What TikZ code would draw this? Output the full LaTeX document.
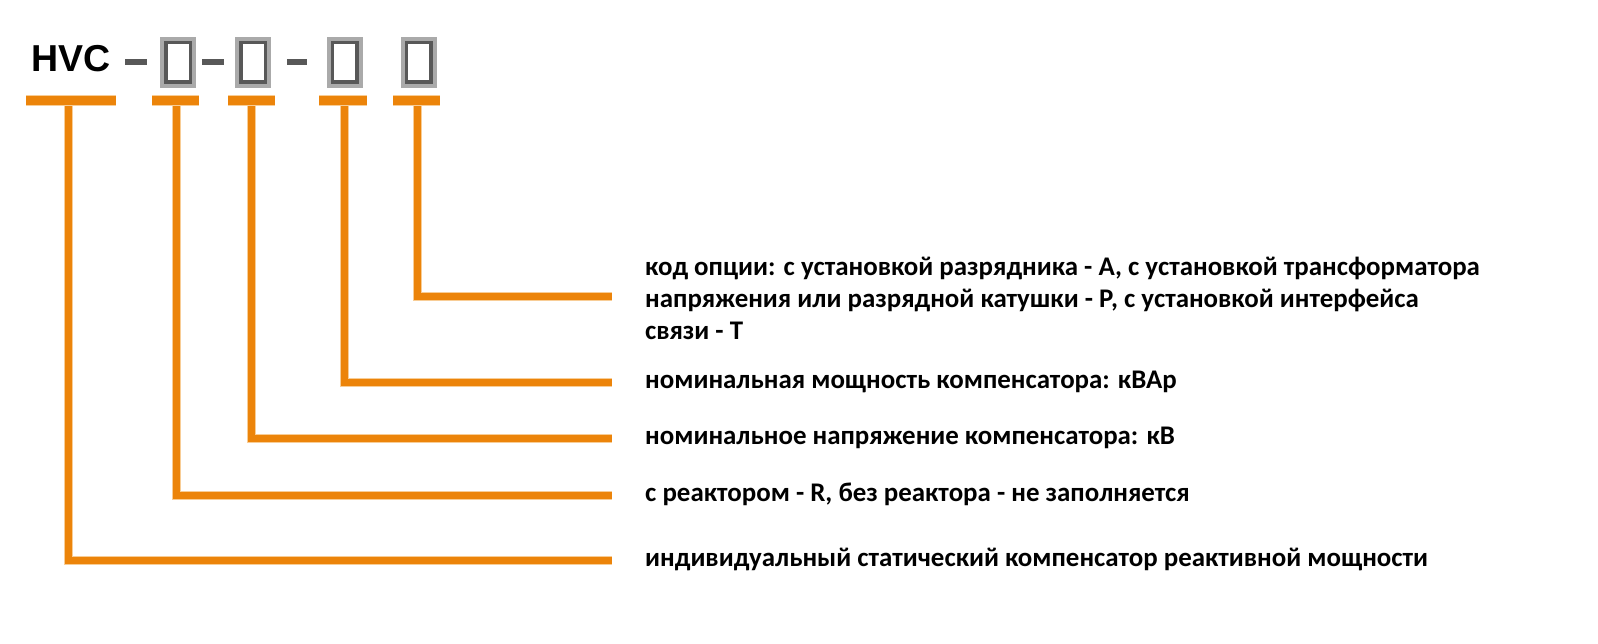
\documentclass[tikz,border=0pt]{standalone}
\usepackage{fontspec}
\newfontfamily\labelfont{Carlito}
\newfontfamily\codefont{Liberation Sans}
\usetikzlibrary{positioning, math}
\definecolor{horange}{RGB}{236,132,10}
\definecolor{hhalo}{RGB}{248,205,150}
\definecolor{hgrey}{RGB}{170,170,170}
\definecolor{hdark}{RGB}{88,88,88}

\begin{document}
\begin{tikzpicture}[x=1pt, y=-1pt, line join=miter,
  lead/.style={draw=horange, line width=7pt, preaction={draw=hhalo, line width=9pt}},
  tbar/.style={draw=horange, line width=9pt, preaction={draw=hhalo, line width=11pt}},
  desc/.style={font=\labelfont\bfseries\fontsize{26.9}{32}\selectfont, inner sep=0pt, align=left},
  slotout/.style={draw=hgrey, line width=4pt, minimum width=32pt, minimum height=47pt, inner sep=0pt},
  slotin/.style={draw=hdark, line width=3.5pt, minimum width=24.5pt, minimum height=39.5pt, inner sep=0pt},
  sep/.style={draw=hdark, line width=6pt}
  ]
\tikzmath{
\lx=612;
\gap=33;
}
\useasboundingbox (0,0) rectangle (1598,644);

%code
\node[font=\codefont\bfseries\fontsize{37.5}{37.5}\selectfont, inner sep=0pt, anchor=base west] (hvc) at (31,72) {HVC};
\node[slotout] (s1) at (178,62.5) {};
\node[slotout] (s2) at (253,62.5) {};
\node[slotout] (s3) at (344.5,62.5) {};
\node[slotout] (s4) at (418.5,62.5) {};
\node[slotin] at (s1) {};
\node[slotin] at (s2) {};
\node[slotin] at (s3) {};
\node[slotin] at (s4) {};
\draw[sep] (125,62) -- (147,62);
\draw[sep] (202,62) -- (224,62);
\draw[sep] (287,62) -- (307,62);

%bars
\coordinate (b0) at (68,101);
\coordinate (b1) at (176,101);
\coordinate (b2) at (251,101);
\coordinate (b3) at (344,101);
\coordinate (b4) at (417,101);

%line ends
\coordinate (e0) at (\lx,560);
\coordinate (e1) at (\lx,495);
\coordinate (e2) at (\lx,438);
\coordinate (e3) at (\lx,382);
\coordinate (e4) at (\lx,297);

%labels
\node[desc, right=\gap pt of e0, anchor=base west, yshift=-6.5pt] (t0) {индивидуальный статический компенсатор реактивной мощности};
\node[desc, right=\gap pt of e1, anchor=base west, yshift=-6.5pt] (t1) {с реактором - R, без реактора - не заполняется};
\node[desc, right=\gap pt of e2, anchor=base west, yshift=-6.5pt] (t2) {номинальное напряжение компенсатора: кВ};
\node[desc, right=\gap pt of e3, anchor=base west, yshift=-6.5pt] (t3) {номинальная мощность компенсатора: кВАр};
\node[desc, right=\gap pt of e4, anchor=west, yshift=-1pt] (t4) {код опции: с установкой разрядника - А, с установкой трансформатора\\напряжения или разрядной катушки - Р, с установкой интерфейса\\связи - Т};

%leads
\draw[lead] (b0) |- (e0);
\draw[lead] (b1) |- (e1);
\draw[lead] (b2) |- (e2);
\draw[lead] (b3) |- (e3);
\draw[lead] (b4) |- (e4);

\draw[tbar] (26,101) -- (116,101);
\draw[tbar] (152,101) -- (199,101);
\draw[tbar] (228,101) -- (275,101);
\draw[tbar] (319,101) -- (367,101);
\draw[tbar] (393,101) -- (440,101);

\end{tikzpicture}
\end{document}
